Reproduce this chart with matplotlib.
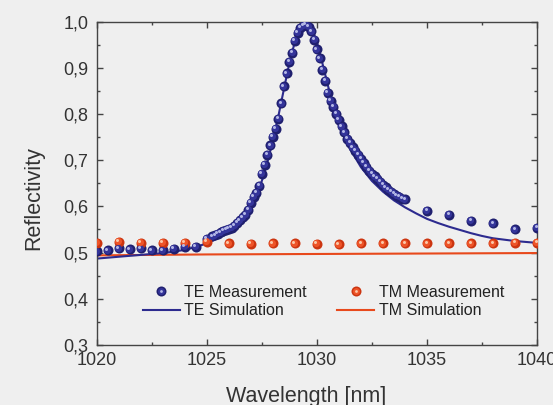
import numpy as np
import matplotlib
matplotlib.use("Agg")
import matplotlib.pyplot as plt
import matplotlib.transforms as mtransforms
from matplotlib.lines import Line2D
from matplotlib.legend_handler import HandlerTuple
from matplotlib.ticker import MultipleLocator, FuncFormatter

plt.rcParams['font.family'] = ['Liberation Sans', 'DejaVu Sans']

# TE measurement: coarse scan on the left, fine scan over the resonance, coarse scan on the right
te_left_wl = [1020.0, 1020.5, 1021.0, 1021.5, 1022.0, 1022.5, 1023.0, 1023.5, 1024.0, 1024.5, 1025.0]
te_left = [0.503, 0.505, 0.509, 0.507, 0.509, 0.505, 0.505, 0.508, 0.513, 0.512, 0.530]

te_fine_start = 1025.25
te_fine_step = 0.125
te_fine = [0.535, 0.537, 0.540, 0.544, 0.547, 0.549,
           0.551, 0.553, 0.558, 0.564, 0.570, 0.576, 0.582, 0.592,
           0.607, 0.620, 0.630, 0.645, 0.670, 0.690, 0.712, 0.732,
           0.750, 0.768, 0.790, 0.823, 0.860, 0.888, 0.913, 0.932,
           0.958, 0.976, 0.986, 0.991, 0.993, 0.989, 0.979, 0.961,
           0.940, 0.920, 0.896, 0.872, 0.845, 0.828, 0.815, 0.800,
           0.787, 0.773, 0.760, 0.746, 0.737, 0.728, 0.720, 0.712,
           0.703, 0.694, 0.685, 0.677, 0.671, 0.665, 0.659, 0.653,
           0.647, 0.641, 0.636, 0.631, 0.627, 0.623, 0.620, 0.617,
           0.615]

te_right_wl = [1035, 1036, 1037, 1038, 1039, 1040]
te_right = [0.590, 0.582, 0.568, 0.563, 0.550, 0.554]

# TM measurement
tm_wl = list(range(1020, 1041))
tm_meas = [0.521, 0.523, 0.521, 0.521, 0.521, 0.523, 0.520, 0.519, 0.520, 0.520, 0.519,
           0.518, 0.520, 0.520, 0.520, 0.520, 0.520, 0.520, 0.520, 0.521, 0.521]

# simulations
te_sim_wl = [1020.0, 1020.5, 1021.0, 1021.5, 1022.0, 1022.5, 1023.0, 1023.5, 1024.0, 1024.5,
             1025.0, 1025.5, 1026.0, 1026.5, 1027.0, 1027.25, 1027.5, 1027.75, 1028.0, 1028.25,
             1028.5, 1028.75, 1029.0, 1029.25, 1029.5, 1029.75, 1030.0, 1030.25, 1030.5, 1030.75,
             1031.0, 1031.5, 1032.0, 1032.5, 1033.0, 1033.5, 1034.0, 1034.5, 1035.0, 1035.5,
             1036.0, 1036.5, 1037.0, 1037.5, 1038.0, 1038.5, 1039.0, 1039.5, 1040.0]
te_sim = [0.487, 0.489, 0.491, 0.493, 0.495, 0.497, 0.499, 0.502, 0.506, 0.512,
          0.520, 0.531, 0.546, 0.567, 0.600, 0.624, 0.655, 0.695, 0.742, 0.795,
          0.853, 0.910, 0.956, 0.988, 0.998, 0.988, 0.956, 0.910, 0.862, 0.815,
          0.775, 0.725, 0.685, 0.655, 0.632, 0.613, 0.598, 0.585, 0.573, 0.564,
          0.556, 0.549, 0.542, 0.536, 0.531, 0.528, 0.525, 0.523, 0.521]

tm_sim_wl = [1020, 1025, 1030, 1035, 1040]
tm_sim = [0.494, 0.496, 0.497, 0.498, 0.499]

BG = '#efefef'
TE_COL = ('#20206f', '#34349a', '#b4b8e6')
TM_COL = ('#cc3510', '#ee5428', '#fcc8a8')
TE_LINE = '#2d2b8f'
TM_LINE = '#e8491c'
S = 52


def balls(ax, x, y, cols):
    # shaded spheres: dark body, lighter core and small highlight shifted up-left
    fig = ax.figure
    off1 = mtransforms.offset_copy(ax.transData, fig=fig, x=-0.4, y=0.5, units='points')
    off2 = mtransforms.offset_copy(ax.transData, fig=fig, x=-1.0, y=1.2, units='points')
    ax.scatter(x, y, s=S, color=cols[0], linewidths=0, zorder=3)
    ax.scatter(x, y, s=S * 0.5, color=cols[1], linewidths=0, zorder=4, transform=off1)
    ax.scatter(x, y, s=S * 0.09, color=cols[2], linewidths=0, zorder=5, transform=off2)


fig = plt.figure(figsize=(5.53, 4.05), dpi=100, facecolor=BG)
ax = fig.add_axes([0.1749, 0.1481, 0.7962, 0.7988], facecolor=BG)

ax.plot(tm_sim_wl, tm_sim, color=TM_LINE, lw=1.5, zorder=2)
ax.plot(te_sim_wl, te_sim, color=TE_LINE, lw=1.5, zorder=2)

te_fine_wl = te_fine_start + te_fine_step * np.arange(len(te_fine))
te_wl = np.concatenate([te_left_wl, te_fine_wl, te_right_wl])
te_meas = np.concatenate([te_left, te_fine, te_right])
balls(ax, te_wl, te_meas, TE_COL)
balls(ax, tm_wl, tm_meas, TM_COL)

ax.set_xlim(1020, 1040)
ax.set_ylim(0.3, 1.0)
ax.xaxis.set_major_locator(MultipleLocator(5))
ax.xaxis.set_minor_locator(MultipleLocator(2.5))
ax.yaxis.set_major_locator(MultipleLocator(0.1))
ax.yaxis.set_minor_locator(MultipleLocator(0.05))
ax.yaxis.set_major_formatter(FuncFormatter(lambda v, p: f"{v:.1f}".replace('.', ',')))

for sp in ax.spines.values():
    sp.set_color('#444444')
    sp.set_linewidth(1.0)
ax.tick_params(which='both', direction='in', top=True, right=True, color='#444444', width=1.0)
ax.tick_params(which='major', length=4.5, labelsize=13, labelcolor='#333333')
ax.tick_params(axis='y', which='major', pad=6)
ax.tick_params(axis='x', which='major', pad=5)
ax.tick_params(which='minor', length=2.5)

ax.set_xlabel('Wavelength [nm]', fontsize=15.5, color='#333333', va='baseline')
ax.xaxis.set_label_coords(0.4765, -0.176)
ax.set_ylabel('Reflectivity', fontsize=15.5, color='#333333', va='center', ha='center')
ax.yaxis.set_label_coords(-0.142, 0.454)

# legend handles: sphere markers built from stacked dots
def ball_handle(cols):
    return (Line2D([], [], ls='none', marker='o', ms=7.2, mfc=cols[0], mec='none'),
            Line2D([], [], ls='none', marker='o', ms=5.0, mfc=cols[1], mec='none'),
            Line2D([], [], ls='none', marker='o', ms=2.0, mfc=cols[2], mec='none'))

handles = [ball_handle(TE_COL),
           Line2D([], [], color=TE_LINE, lw=1.5),
           ball_handle(TM_COL),
           Line2D([], [], color=TM_LINE, lw=1.5)]
labels = ['TE Measurement', 'TE Simulation', 'TM Measurement', 'TM Simulation']
leg = ax.legend(handles, labels, ncol=2, loc='upper left', bbox_to_anchor=(0.105, 0.1855),
                frameon=False, fontsize=11.5, handlelength=2.3, handletextpad=0.3,
                columnspacing=1.9, labelspacing=0.2, borderpad=0, borderaxespad=0,
                handler_map={tuple: HandlerTuple(ndivide=1, pad=0)})
for t in leg.get_texts():
    t.set_color('#222222')

fig.savefig('out.png', dpi=100, facecolor=BG)
